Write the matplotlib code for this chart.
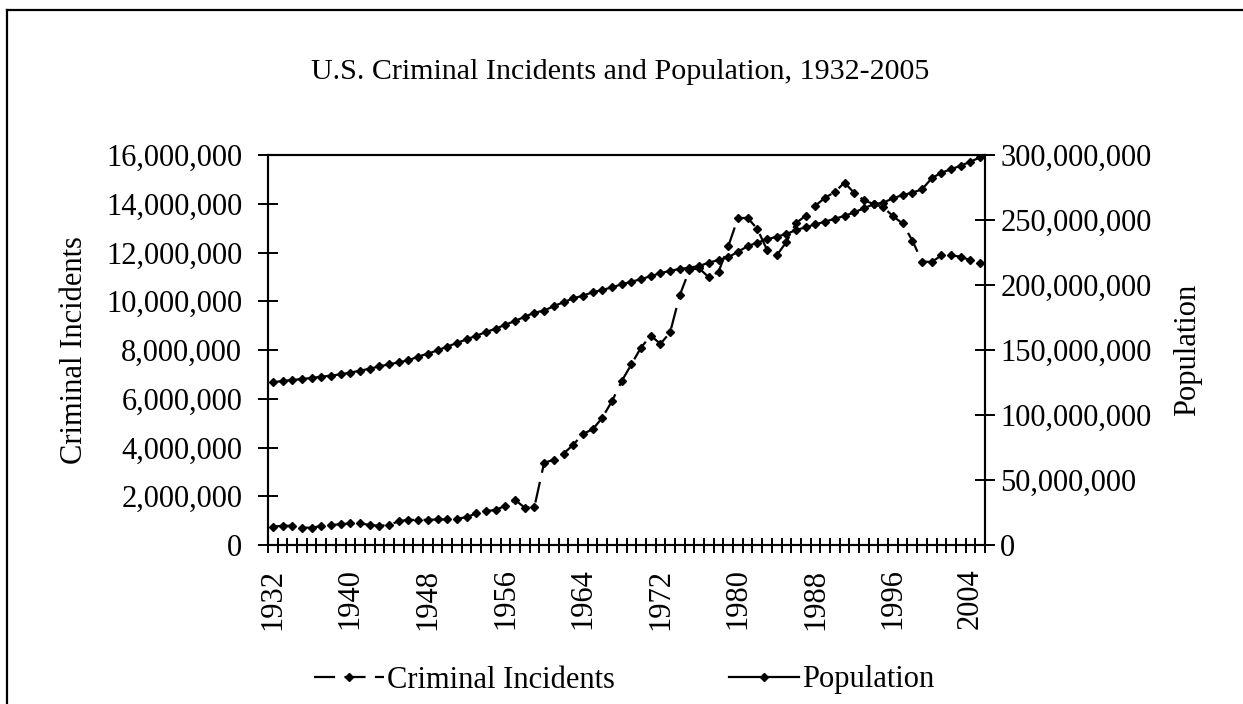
import matplotlib
matplotlib.use("Agg")
import matplotlib.pyplot as plt
import matplotlib.ticker as mticker
from matplotlib.lines import Line2D
import numpy as np

plt.rcParams['font.family'] = ['Liberation Serif', 'DejaVu Serif']

years = list(range(1932, 2006))

crime_millions = [
    0.75, 0.79, 0.79, 0.71, 0.71, 0.78, 0.82, 0.85, 0.89, 0.89,   # 1932-1941
    0.82, 0.79, 0.82, 0.98, 1.03, 1.03, 1.03, 1.05, 1.05, 1.08,   # 1942-1951
    1.14, 1.30, 1.39, 1.44, 1.61, 1.85, 1.53, 1.57, 3.38, 3.49,   # 1952-1961
    3.75, 4.11, 4.56, 4.74, 5.22, 5.90, 6.72, 7.41, 8.10, 8.59,   # 1962-1971
    8.25, 8.72, 10.25, 11.29, 11.35, 10.98, 11.21, 12.25, 13.41, 13.42,  # 1972-1981
    12.97, 12.11, 11.88, 12.43, 13.21, 13.51, 13.92, 14.25, 14.48, 14.87,  # 1982-1991
    14.44, 14.14, 13.99, 13.86, 13.49, 13.19, 12.49, 11.63, 11.61, 11.88,  # 1992-2001
    11.88, 11.83, 11.68, 11.56,                                      # 2002-2005
]

population_millions = [
    125.1, 126.2, 126.9, 127.7, 128.5, 129.5, 130.3, 131.3, 132.6, 134.1,  # 1932-1941
    135.6, 137.4, 139.0, 140.5, 142.1, 144.9, 147.2, 149.7, 152.6, 155.4,  # 1942-1951
    158.2, 161.0, 163.8, 166.4, 169.5, 172.3, 175.6, 178.7, 180.3, 183.8,  # 1952-1961
    186.7, 189.7, 191.8, 194.4, 196.2, 198.2, 200.5, 202.6, 204.4, 206.9,  # 1962-1971
    209.0, 211.0, 212.3, 213.3, 214.6, 217.2, 219.2, 221.3, 225.6, 229.8,  # 1972-1981
    232.6, 235.1, 237.2, 239.2, 242.3, 244.4, 246.7, 248.7, 251.0, 253.1,  # 1982-1991
    255.9, 259.0, 262.1, 263.3, 266.7, 269.2, 271.0, 273.6, 282.1, 286.4,  # 1992-2001
    289.0, 291.8, 294.9, 298.2,                                            # 2002-2005
]

label_years = [1932, 1940, 1948, 1956, 1964, 1972, 1980, 1988, 1996, 2004]

title = "U.S. Criminal Incidents and Population, 1932-2005"
left_label = "Criminal Incidents"
right_label = "Population"

FS_TITLE = 21.6
FS = 22
W, H = 1243, 704

fig = plt.figure(figsize=(W / 100, H / 100), dpi=100)
ax = fig.add_axes([268 / W, 1 - 545 / H, 717 / W, 390 / H])
ax2 = ax.twinx()

x = np.arange(len(years))
crime = np.array(crime_millions) * 1e6
pop = np.array(population_millions) * 1e6

lw = 1.6
l1, = ax.plot(x, crime, color='black', lw=lw, linestyle=(0, (9.5, 4.2)),
              marker='D', markersize=4.4, markerfacecolor='black',
              markeredgecolor='black', label=left_label, zorder=3)
l2, = ax2.plot(x, pop, color='black', lw=lw, linestyle='-',
               marker='D', markersize=4.4, markerfacecolor='black',
               markeredgecolor='black', label=right_label, zorder=3)

ax.set_xlim(-0.5, len(years) - 0.5)
ax.set_ylim(0, 16e6)
ax2.set_ylim(0, 300e6)

ax.set_yticks(np.arange(0, 16e6 + 1, 2e6))
ax2.set_yticks(np.arange(0, 300e6 + 1, 50e6))
fmt = mticker.FuncFormatter(lambda v, p: f"{int(round(v)):,}")
ax.yaxis.set_major_formatter(fmt)
ax2.yaxis.set_major_formatter(fmt)

ax.set_xticks(np.arange(-0.5, len(years), 1.0))
ax.set_xticklabels([])
lab_pos = [years.index(y) for y in label_years]
ax.set_xticks(lab_pos, minor=True)
ax.set_xticklabels([str(y) for y in label_years], minor=True)

ax.tick_params(axis='x', which='major', direction='inout', length=10.8, width=1.4)
ax.tick_params(axis='x', which='minor', length=0, pad=17.0, labelsize=FS,
               labelrotation=90)
ax.tick_params(axis='y', direction='inout', length=15, width=1.4, pad=11.0,
               labelsize=FS)
ax2.tick_params(axis='y', direction='inout', length=15, width=1.4, pad=3.5,
                labelsize=FS)

for a in (ax, ax2):
    for s in a.spines.values():
        s.set_linewidth(1.5)
        s.set_color('black')

fig.text(620 / W, 1 - 72 / H, title, ha='center', va='center', fontsize=FS_TITLE)
fig.text(75 / W, 1 - 350 / H, left_label, ha='center', va='center',
         rotation=90, fontsize=FS)
fig.text(1188 / W, 1 - 350 / H, right_label, ha='center', va='center',
         rotation=90, fontsize=FS)

fig.legend([l1, l2], [left_label, right_label], loc='center',
           bbox_to_anchor=(624 / W, 1 - 680 / H), ncol=2, frameon=False,
           fontsize=FS, handlelength=2.3, handletextpad=0.08,
           columnspacing=3.75, borderpad=0, borderaxespad=0)

# outer chart border (top and left visible)
fig.add_artist(Line2D([7 / W, 7 / W], [0, 1 - 10 / H], color='black', lw=1.6,
                      transform=fig.transFigure))
fig.add_artist(Line2D([7 / W, 1.0], [1 - 10 / H, 1 - 10 / H], color='black',
                      lw=1.6, transform=fig.transFigure))

fig.savefig("out.png", dpi=100)
